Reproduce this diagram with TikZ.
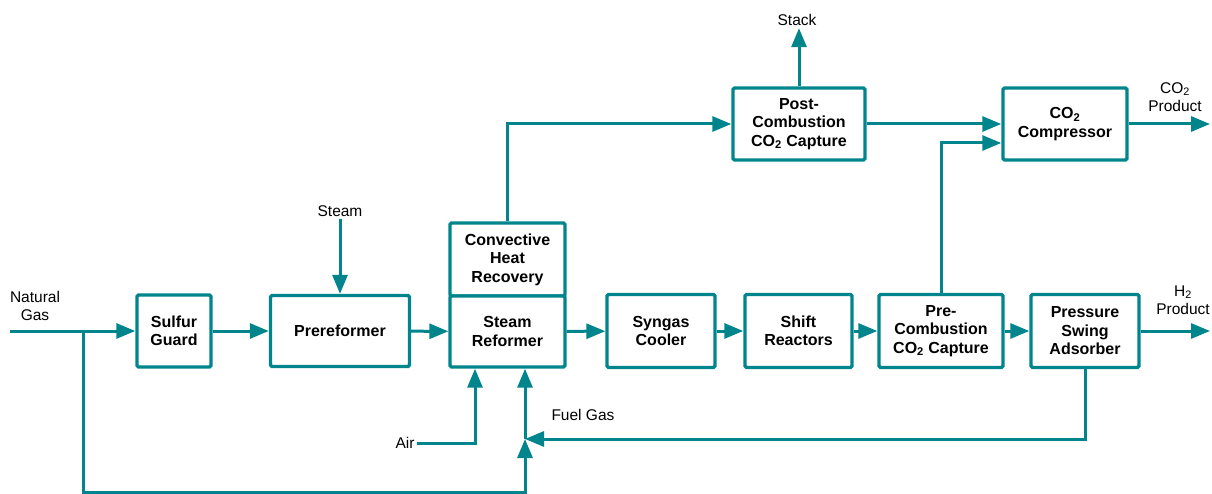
\documentclass[tikz,border=0pt]{standalone}
\usepackage{fontspec}
\setmainfont{Liberation Sans}
\usetikzlibrary{arrows.meta}
\definecolor{procteal}{RGB}{0,133,140}

\begin{document}
\begin{tikzpicture}[x=1pt,y=-1pt,line width=3pt,>={Triangle[length=19pt,width=15pt]},
  unit/.style={draw=procteal,line width=3.4pt,rounded corners=1.5pt,fill=white,
    font=\fontsize{16}{18.5}\selectfont\bfseries,align=center,inner sep=0pt},
  lbl/.style={font=\fontsize{15.5}{18.5}\selectfont,align=center,inner sep=1pt},
  flow/.style={draw=procteal,->}]
\useasboundingbox (0,0) rectangle (1212,494);
% ---------- main units ----------
\node[unit,minimum width=74,minimum height=72] (sulfur) at (174,331) {Sulfur\\Guard};
\node[unit,minimum width=139,minimum height=71] (prer) at (340,331) {Prereformer};
\node[unit,minimum width=115,minimum height=73] (conv) at (507.5,259.5) {Convective\\Heat\\Recovery};
\node[unit,minimum width=115,minimum height=71] (reformer) at (507.5,331.5) {Steam\\Reformer};
\node[unit,minimum width=108,minimum height=73] (cooler) at (661,331) {Syngas\\Cooler};
\node[unit,minimum width=107,minimum height=73] (shift) at (798.5,331) {Shift\\Reactors};
\node[unit,minimum width=124,minimum height=73] (precap) at (941,331) {Pre-\\Combustion\\CO\textsubscript{2} Capture};
\node[unit,minimum width=108,minimum height=73] (psa) at (1085,331) {Pressure\\Swing\\Adsorber};
\node[unit,minimum width=132,minimum height=72] (postcap) at (799,124) {Post-\\Combustion\\CO\textsubscript{2} Capture};
\node[unit,minimum width=124,minimum height=72] (compr) at (1065,124) {CO\textsubscript{2}\\Compressor};
% ---------- stream labels ----------
\node[lbl] (natgas) at (35,306) {Natural\\Gas};
\node[lbl] (steam) at (340,211) {Steam};
\node[lbl] (air) at (405,443) {Air};
\node[lbl,anchor=west] (fuelgas) at (549,415) {Fuel Gas};
\node[lbl] (stack) at (797,20) {Stack};
\node[lbl] (coprod) at (1175,97) {CO\textsubscript{2}\\Product};
\node[lbl] (hprod) at (1183,300) {H\textsubscript{2}\\Product};
% ---------- junctions and outlets ----------
\coordinate (ngin) at (10,331);
\coordinate (ngsplit) at (83,331);
\coordinate (fgjoin) at (525,439);
\coordinate (coout) at (1210,124);
\coordinate (hout) at (1210,331);
% ---------- connectors ----------
\draw[flow] (ngin) -- (sulfur);
\draw[flow] (sulfur) -- (prer);
\draw[flow] (prer) -- (reformer);
\draw[flow] (reformer) -- (cooler);
\draw[flow] (cooler) -- (shift);
\draw[flow] (shift) -- (precap);
\draw[flow] (precap) -- (psa);
\draw[flow] (psa) -- (hout);
\draw[flow] (steam) -- (prer);
\draw[flow] (conv.north) |- (postcap.west);
\draw[flow] (postcap.north) -- (postcap.north |- stack.south);
\draw[flow] (postcap.east) -- (compr.west);
\draw[flow] (precap.north) |- ([yshift=-19pt]compr.west);
\draw[flow] (compr.east) -- (coout);
\draw[flow] (air.east) -| ([xshift=-32.5pt]reformer.south);
\draw[flow] (psa.south) |- (fgjoin);
\draw[flow] (ngsplit) -- ++(0,161) -| (fgjoin);
\draw[flow] (fgjoin) -- (reformer.south -| fgjoin);
\end{tikzpicture}
\end{document}
